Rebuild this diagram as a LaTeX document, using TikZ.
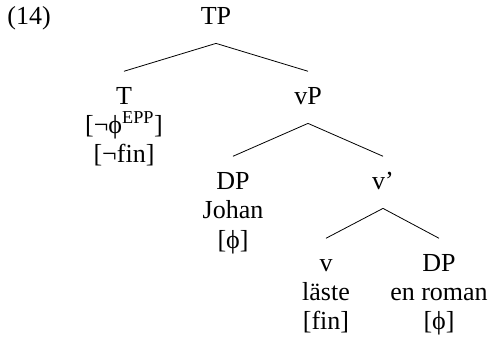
\documentclass[tikz,border=0pt]{standalone}
\usepackage{fontspec}
\setmainfont{Liberation Serif}
\usepackage{tikz}
\tikzset{
  cat/.style={anchor=base, inner xsep=0pt, inner ysep=13pt, text height=12pt, text depth=0.5pt},
  feat/.style={anchor=base, inner sep=0pt}
}

\begin{document}
\begin{tikzpicture}[x=0.75pt,y=-0.75pt,font=\fontsize{19.5pt}{23pt}\selectfont,line width=0.6pt]
      \useasboundingbox (0,0) rectangle (492,341);
      \node[anchor=base west, inner sep=0pt] (ex) at (7,25) {(14)};
      \node[cat] (TP) at (216,25) {TP};
      
      \node[cat] (T) at (124,105) {T};
      \node[feat] (Tphi) at (124,134) {[¬ϕ\textsuperscript{EPP}]};
      \node[feat] (Tfin) at (124,163) {[¬fin]};
      \node[cat] (vP) at (308,105) {vP};
      
      \node[cat] (DPa) at (233,190) {DP};
      \node[feat] (johan) at (233,219) {Johan};
      \node[feat] (DPaphi) at (233,249) {[ϕ]};
      \node[cat] (vbar) at (383,190) {v’};
      
      \node[cat] (v) at (326,272) {v};
      \node[feat] (laste) at (326,301) {läste};
      \node[feat] (vfin) at (326,330) {[fin]};
      \node[cat] (DPb) at (439,272) {DP};
      \node[feat] (roman) at (439,301) {en roman};
      \node[feat] (DPbphi) at (439,330) {[ϕ]};
      
      \draw foreach \a/\b in {TP/T,TP/vP,vP/DPa,vP/vbar,vbar/v,vbar/DPb}{(\a.south) -- (\b.north)};
    \end{tikzpicture}
\end{document}
